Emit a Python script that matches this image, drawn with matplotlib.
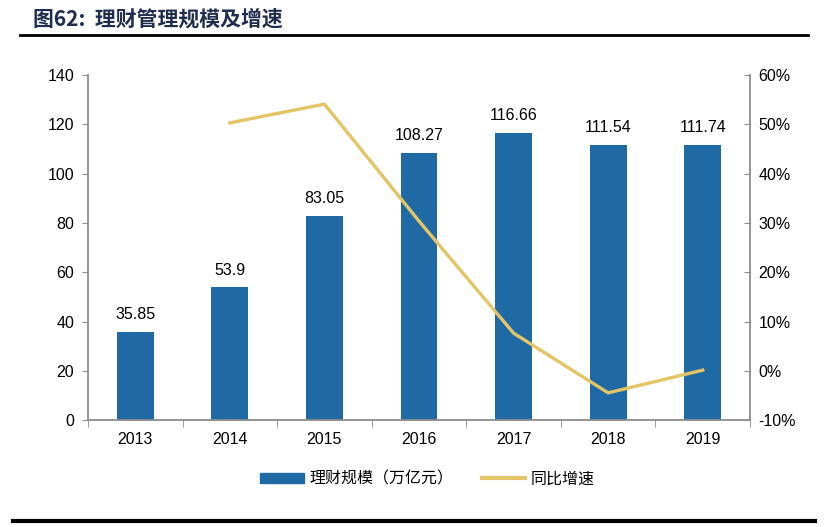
import matplotlib.pyplot as plt
from matplotlib.lines import Line2D
from matplotlib.patches import Patch

plt.rcParams['font.family'] = ['Liberation Sans', 'Noto Sans CJK SC', 'DejaVu Sans']

years = ["2013", "2014", "2015", "2016", "2017", "2018", "2019"]
scale = [35.85, 53.9, 83.05, 108.27, 116.66, 111.54, 111.74]
scale_labels = ["35.85", "53.9", "83.05", "108.27", "116.66", "111.54", "111.74"]
growth_years = ["2014", "2015", "2016", "2017", "2018", "2019"]
growth = [50.3, 54.1, 30.4, 7.7, -4.4, 0.2]

bar_color = "#1F6AA5"
line_color = "#E3C565"
spine_color = "#8C8C8C"

fig = plt.figure(figsize=(8.27, 5.27), dpi=100)
ax = fig.add_axes([0.1064, 0.2021, 0.8005, 0.6556])
ax2 = ax.twinx()

x = list(range(len(years)))
ax.bar(x, scale, width=0.39, color=bar_color, zorder=2)
for xi, v, lab in zip(x, scale, scale_labels):
    ax.text(xi, v + 4, lab, ha="center", va="bottom", fontsize=11.5)

gx = [years.index(y) for y in growth_years]
ax2.plot(gx, growth, color=line_color, linewidth=2.4, zorder=3)

ax.set_xlim(-0.5, len(years) - 0.5)
ax.set_ylim(0, 140)
ax.set_yticks(range(0, 141, 20))
ax2.set_ylim(-10, 60)
ax2.set_yticks(range(-10, 61, 10))
ax2.set_yticklabels([f"{t}%" for t in range(-10, 61, 10)])

ax.set_xticks(x)
ax.set_xticklabels(years)
ax.set_xticks([i - 0.5 for i in range(len(years) + 1)], minor=True)
ax.tick_params(axis="x", which="major", length=0, labelsize=11.5, pad=8)
ax.tick_params(axis="x", which="minor", length=5, direction="out", color=spine_color)
ax.tick_params(axis="y", length=4, direction="out", color=spine_color, labelsize=11.5, pad=6)
ax2.tick_params(axis="y", length=4, direction="in", color=spine_color, labelsize=11.5, pad=6)

for a in (ax, ax2):
    a.spines["top"].set_visible(False)
    for s in ("left", "right", "bottom"):
        a.spines[s].set_color(spine_color)
        a.spines[s].set_linewidth(1.3)
ax.spines["right"].set_visible(False)
ax2.spines["left"].set_visible(False)
ax2.spines["bottom"].set_visible(False)

handles = [Patch(color=bar_color), Line2D([0], [0], color=line_color, linewidth=3)]
fig.legend(handles, ["理财规模（万亿元）", "同比增速"], loc="center",
           bbox_to_anchor=(0.517, 0.091), ncol=2, frameon=False,
           prop={"family": "Noto Sans CJK SC", "size": 11.5},
           handlelength=2.7, handleheight=0.6, handletextpad=0.35,
           columnspacing=1.8)

fig.text(0.04, 0.963, "图62:  理财管理规模及增速", fontsize=15, fontweight="bold",
         color="#1F2D4F", family=["Noto Sans CJK SC"], va="center")
fig.add_artist(Line2D([0.024, 0.977], [0.934, 0.934], color="black", linewidth=2))
fig.add_artist(Line2D([0.016, 0.986], [0.011, 0.011], color="black", linewidth=3))

fig.savefig("out.png", dpi=100)
